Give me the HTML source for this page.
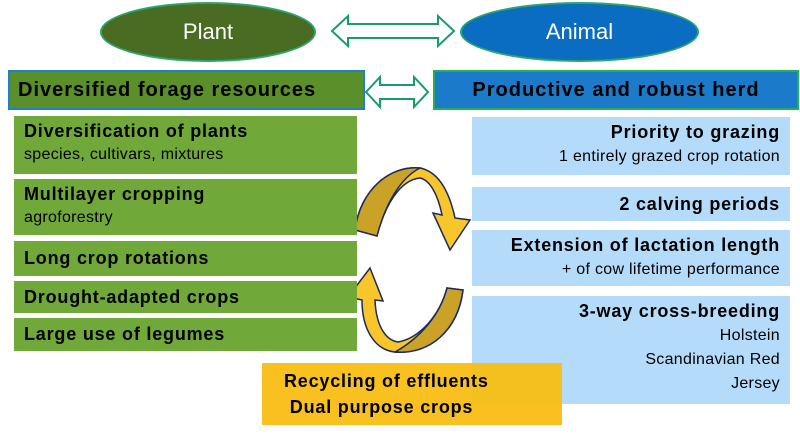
<!DOCTYPE html>
<html><head><style>
body{margin:0;width:800px;height:434px;background:#fff;position:relative;overflow:hidden;font-family:"Liberation Sans",sans-serif;}
div{position:absolute;box-sizing:border-box;}
.g{background:#70a83a;left:14px;width:343px;padding:4px 10px;font-weight:bold;font-size:18px;letter-spacing:0.8px;color:#000;line-height:22px}
.g span{font-weight:normal;font-size:16px;letter-spacing:0.3px}
.b{background:#b4dcfa;left:472px;width:318px;padding:4px 10px;text-align:right;font-weight:bold;font-size:18px;letter-spacing:0.8px;line-height:23px}
.b span{font-weight:normal;font-size:16px;letter-spacing:0.3px}
</style></head><body>
<div style="left:100px;top:2px;width:216px;height:60px;border-radius:50%;background:#4a6b22;border:2px solid #2aa56d;color:#fff;font-size:22px;text-align:center;line-height:56px">Plant</div>
<div style="left:460px;top:2px;width:239px;height:60px;border-radius:50%;background:#0a6dc2;border:2px solid #2aa56d;color:#fff;font-size:22px;text-align:center;line-height:56px">Animal</div>
<div style="left:8px;top:70px;width:357px;height:40px;background:#5a8f2a;border:2px solid #1e7fd0;font-weight:bold;font-size:20px;letter-spacing:1px;line-height:36px;padding-left:8px">Diversified forage resources</div>
<div style="left:433px;top:70px;width:366px;height:40px;background:#1c7acb;border:2px solid #22b050;font-weight:bold;font-size:20px;letter-spacing:1px;line-height:36px;text-align:center">Productive and robust herd</div>
<svg style="position:absolute;left:0;top:0" width="800" height="434">
<polygon points="332,31 348,16 348,24 438,24 438,16 454,31 438,46 438,38 348,38 348,46" fill="#fff" stroke="#1a9a70" stroke-width="2"/>
<polygon points="366,92 380,77 380,85 414,85 414,77 428,92 414,107 414,99 380,99 380,107" fill="#fff" stroke="#1a9a70" stroke-width="2"/>
<path d="M355,230 C360,190 390,165 420,168 C440,172 450,195 455,218 L470,220 L450,250 L433,213 L442,215 C438,195 430,180 420,178 C400,180 385,205 377,236 Z" fill="#f8c52a" stroke="#1a2a5a" stroke-width="1.5"/>
<path d="M355,230 C360,190 390,165 420,168 C400,178 385,205 377,236 Z" fill="#c9a227" stroke="#1a2a5a" stroke-width="1.5"/>
<path d="M447,288 L463,290 C458,330 430,355 395,352 C375,350 362,330 362,300 L348,297 L370,268 L383,301 L375,300 C376,325 385,340 398,342 C420,338 440,315 447,288 Z" fill="#f8c52a" stroke="#1a2a5a" stroke-width="1.5"/>
<path d="M447,288 L463,290 C458,330 430,355 395,352 C420,338 440,315 447,288 Z" fill="#c9a227" stroke="#1a2a5a" stroke-width="1.5"/>
</svg>
<div class="g" style="top:116px;height:58px">Diversification of plants<br><span>species, cultivars, mixtures</span></div>
<div class="g" style="top:179px;height:56px">Multilayer cropping<br><span>agroforestry</span></div>
<div class="g" style="top:241px;height:35px;line-height:27px">Long crop rotations</div>
<div class="g" style="top:281px;height:32px;line-height:24px">Drought-adapted crops</div>
<div class="g" style="top:318px;height:33px;line-height:25px">Large use of legumes</div>
<div class="b" style="top:117px;height:58px">Priority to grazing<br><span>1 entirely grazed crop rotation</span></div>
<div class="b" style="top:187px;height:34px;line-height:26px">2 calving periods</div>
<div class="b" style="top:230px;height:56px">Extension of lactation length<br><span>+ of cow lifetime performance</span></div>
<div class="b" style="top:296px;height:108px">3-way cross-breeding<br><span>Holstein<br>Scandinavian Red<br>Jersey</span></div>
<div style="left:262px;top:363px;width:300px;height:62px;background:rgba(248,190,20,0.95);font-weight:bold;font-size:18px;letter-spacing:0.8px;line-height:26px;padding-top:5px;padding-left:22px">Recycling of effluents<br>&nbsp;Dual purpose crops</div>
</body></html>
